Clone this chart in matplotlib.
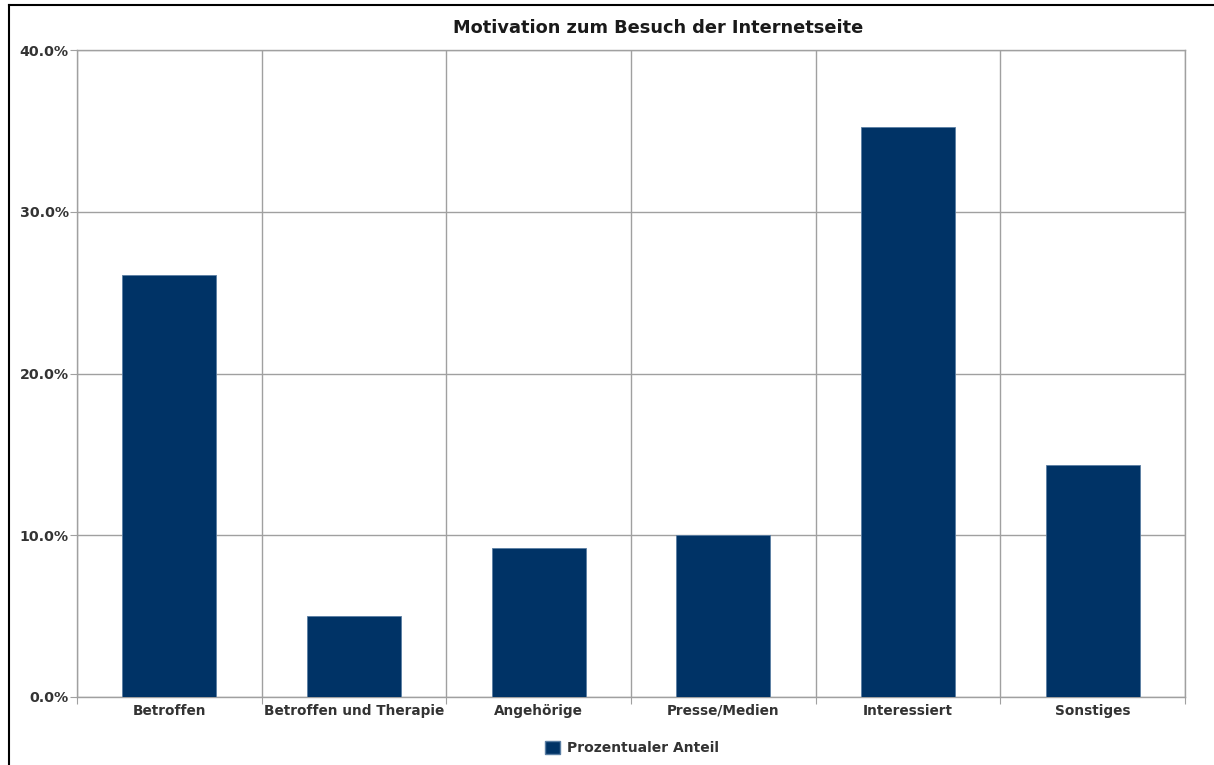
import numpy as np
import matplotlib
matplotlib.use("Agg")
import matplotlib.pyplot as plt
from matplotlib.ticker import FuncFormatter
from matplotlib.patches import Patch
from matplotlib.lines import Line2D

categories = ["Betroffen", "Betroffen und Therapie", "Angehörige",
              "Presse/Medien", "Interessiert", "Sonstiges"]
shares = [26.1, 5.0, 9.2, 10.0, 35.25, 14.35]  # percent

BAR = "#003366"
GRID = "#a0a0a0"
TXT = "#333333"

fig = plt.figure(figsize=(12.14, 7.65), dpi=100)
ax = fig.add_axes([77 / 1214, 68 / 765, 1108 / 1214, 647 / 765])

x = np.arange(len(categories))
ax.bar(x, shares, width=0.51, color=BAR, edgecolor="#5a7ea3", linewidth=0.6, zorder=3)

ax.set_xlim(-0.5, len(categories) - 0.5)
ax.set_ylim(0, 40)
ax.set_yticks([0, 10, 20, 30, 40])
ax.yaxis.set_major_formatter(FuncFormatter(lambda v, _: f"{v:.1f}%"))
ax.set_xticks(np.arange(len(categories) + 1) - 0.5)
ax.set_xticklabels([])
ax.set_xticks(x, minor=True)
ax.set_xticklabels(categories, minor=True)
ax.tick_params(axis="x", which="major", length=5, color=GRID)
ax.tick_params(axis="x", which="minor", length=0, pad=5)
ax.tick_params(axis="y", length=5, color=GRID, pad=1)
for lab in ax.get_xticklabels(minor=True):
    lab.set_fontsize(9.8)
    lab.set_fontweight("bold")
    lab.set_color(TXT)
for lab in ax.get_yticklabels():
    lab.set_fontsize(10.2)
    lab.set_fontweight("bold")
    lab.set_color(TXT)
ax.grid(True, which="major", color=GRID, linewidth=1.0, zorder=0)
for s in ax.spines.values():
    s.set_color(GRID)
    s.set_linewidth(1.0)

fig.text(658 / 1214, 1 - 28 / 765, "Motivation zum Besuch der Internetseite",
         ha="center", va="center", fontsize=12.8, fontweight="bold", color="#1a1a1a")

leg = fig.legend(handles=[Patch(facecolor=BAR, edgecolor="#5a7ea3", label="Prozentualer Anteil")],
                 loc="center", bbox_to_anchor=(632 / 1214, 1 - 748 / 765), frameon=False,
                 handlelength=1.1, handleheight=1.1, handletextpad=0.5,
                 prop={"size": 10, "weight": "bold"})
for t in leg.get_texts():
    t.set_color(TXT)

# screenshot frame on the left and top edge
fig.add_artist(Line2D([8.5 / 1214, 8.5 / 1214], [0, 1 - 4.5 / 765], color="black", linewidth=1.5))
fig.add_artist(Line2D([8.5 / 1214, 1], [1 - 4.5 / 765, 1 - 4.5 / 765], color="black", linewidth=1.5))

fig.savefig("out.png", dpi=100)
